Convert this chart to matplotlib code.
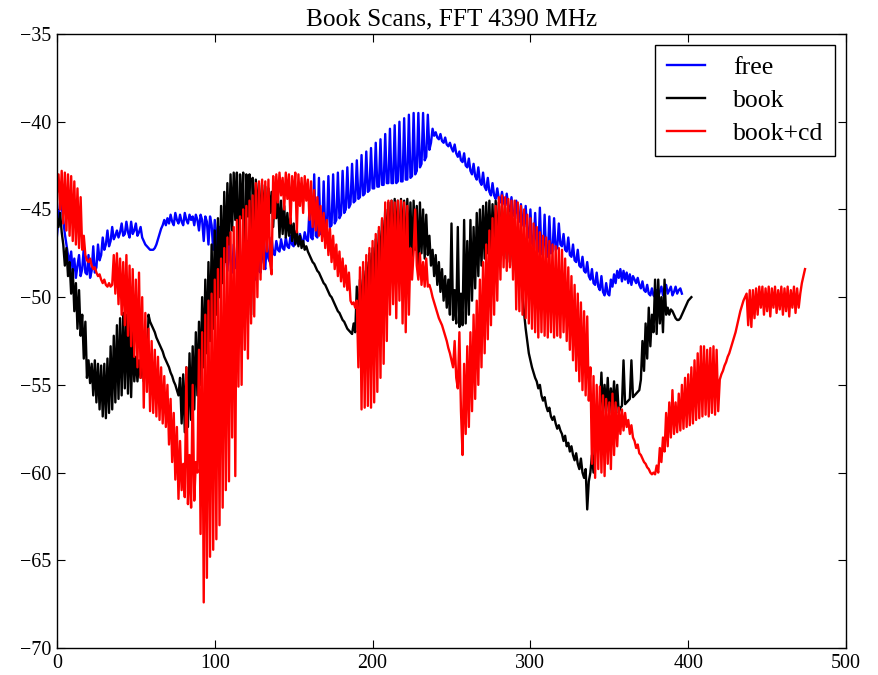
import numpy as np
import matplotlib
matplotlib.use("Agg")
import matplotlib.pyplot as plt

# One reading per scan position, starting at position 0
free_db = [
    -46.5, -45.5, -44.6, -44.8, -45.6, -46.4, -47.0, -47.6, -48.0, -47.4,
    -48.6, -47.8, -48.9, -48.2, -47.6, -48.8, -48.4, -47.2, -48.6, -48.7,
    -47.6, -48.9, -48.5, -47.1, -48.6, -48.3, -47.0, -47.9, -47.6, -46.6,
    -47.3, -47.0, -46.2, -47.1, -46.8, -46.0, -46.7, -46.5, -46.2, -46.6,
    -46.3, -45.8, -46.5, -46.4, -45.7, -46.3, -46.6, -45.7, -46.4, -46.2,
    -45.8, -46.5, -46.3, -46.0, -46.6, -46.8, -47.0, -47.1, -47.2, -47.3,
    -47.3, -47.3, -47.2, -47.0, -46.7, -46.4, -46.1, -45.9, -45.6, -45.9,
    -45.5, -45.8, -45.3, -45.7, -45.9, -45.2, -45.6, -45.8, -45.3, -45.7,
    -45.9, -45.2, -45.6, -45.8, -45.3, -45.6, -45.4, -45.9, -45.3, -45.6,
    -46.2, -45.3, -45.6, -46.8, -45.4, -45.7, -47.0, -45.4, -45.9, -47.3,
    -45.6, -46.5, -47.6, -46.0, -47.0, -48.0, -46.5, -47.5, -48.5, -47.0,
    -48.0, -48.6, -47.0, -48.2, -48.4, -46.8, -48.0, -48.6, -47.2, -48.5,
    -48.8, -46.8, -48.2, -49.2, -46.5, -48.0, -49.0, -46.4, -48.5, -48.6,
    -46.6, -48.0, -48.4, -46.8, -47.8, -48.0, -46.6, -47.5, -47.6, -46.8,
    -47.3, -47.4, -46.7, -47.2, -47.3, -46.6, -47.1, -47.2, -46.5, -47.0,
    -47.1, -46.4, -46.9, -47.0, -46.4, -46.8, -46.9, -46.3, -46.7, -46.8,
    -45.0, -46.6, -46.7, -43.0, -46.5, -46.6, -43.2, -46.4, -46.4, -43.4,
    -46.2, -46.2, -43.1, -46.0, -45.9, -43.0, -45.8, -45.6, -42.9, -45.5,
    -45.3, -42.8, -45.2, -45.0, -42.6, -44.9, -44.7, -42.4, -44.6, -44.5,
    -42.2, -44.4, -44.3, -41.9, -44.2, -44.1, -41.7, -44.0, -43.9, -41.5,
    -43.8, -43.8, -41.2, -43.7, -43.7, -41.0, -43.6, -43.6, -40.7, -43.5,
    -43.5, -40.4, -43.5, -43.5, -40.2, -43.5, -43.4, -40.0, -43.4, -43.4,
    -39.8, -43.3, -43.3, -39.6, -43.2, -43.1, -39.5, -43.0, -42.8, -39.5,
    -42.6, -42.4, -39.5, -42.2, -42.0, -39.6, -41.6, -41.2, -40.4, -40.8,
    -40.6, -40.9, -41.0, -40.7, -41.1, -41.2, -40.9, -41.3, -41.4, -41.2,
    -41.5, -41.7, -41.3, -41.8, -42.0, -41.7, -42.2, -42.3, -41.8, -42.5,
    -42.6, -42.1, -42.8, -43.0, -42.4, -43.1, -43.3, -42.6, -43.4, -43.6,
    -42.9, -43.7, -43.9, -43.2, -44.0, -44.2, -43.5, -44.2, -44.4, -43.8,
    -44.4, -44.6, -44.0, -44.6, -44.8, -44.1, -44.9, -45.1, -44.3, -45.2,
    -45.4, -44.5, -45.5, -45.7, -44.7, -45.8, -46.0, -44.8, -46.3, -46.6,
    -45.0, -46.9, -47.1, -45.2, -47.2, -47.4, -44.9, -47.5, -47.6, -45.3,
    -47.6, -47.7, -45.4, -47.5, -47.4, -45.5, -47.3, -47.2, -45.8, -47.0,
    -47.1, -46.4, -47.3, -47.4, -46.6, -47.6, -47.7, -47.0, -47.9, -48.0,
    -47.3, -48.2, -48.3, -47.7, -48.5, -48.6, -48.0, -48.8, -49.0, -48.4,
    -49.2, -49.3, -48.6, -49.4, -49.6, -48.8, -49.7, -49.9, -49.2, -49.8,
    -49.9, -49.0, -49.4, -48.7, -49.2, -48.5, -48.9, -48.4, -49.1, -48.5,
    -49.0, -48.6, -49.2, -48.7, -49.3, -48.8, -49.0, -49.2, -48.9, -49.3,
    -49.5, -49.1, -49.6, -49.7, -49.3, -49.8, -49.9, -49.5, -49.9, -50.0,
    -49.6, -50.0, -49.7, -49.4, -49.9, -49.5, -49.3, -49.8, -49.6, -49.4,
    -49.9, -49.7, -49.4, -49.8, -49.6, -49.5, -49.8,
]

book_db = [
    -45.5, -46.0, -45.2, -46.3, -47.0, -48.2, -47.2, -48.8, -48.0, -49.8,
    -48.4, -50.8, -49.2, -51.8, -49.6, -52.2, -51.0, -53.5, -51.4, -54.6,
    -53.6, -54.9, -53.8, -55.6, -53.6, -56.0, -53.8, -56.4, -53.9, -56.8,
    -53.8, -56.9, -53.5, -56.6, -52.8, -56.4, -52.2, -56.0, -51.6, -55.8,
    -51.2, -55.6, -50.9, -55.2, -51.0, -55.5, -51.2, -55.7, -52.0, -54.8,
    -53.4, -54.8, -53.6, -54.6, -53.4, -54.8, -53.5, -54.6, -51.0, -51.4,
    -51.6, -51.8, -52.0, -52.3, -52.5, -52.7, -52.9, -53.1, -53.4, -53.6,
    -53.8, -54.0, -54.3, -54.5, -54.8, -55.0, -55.3, -55.6, -54.6, -57.2,
    -54.4, -57.7, -54.0, -57.4, -53.2, -57.0, -52.8, -56.4, -52.0, -55.6,
    -51.4, -55.0, -50.0, -54.0, -49.0, -53.2, -48.0, -52.5, -47.0, -51.8,
    -46.2, -51.0, -45.5, -50.0, -44.8, -49.2, -44.0, -48.0, -43.5, -47.0,
    -43.0, -46.2, -42.9, -45.6, -42.9, -49.0, -43.0, -45.5, -42.9, -50.8,
    -43.0, -45.4, -43.0, -51.0, -43.2, -46.0, -43.3, -45.5, -43.5, -46.2,
    -43.6, -45.4, -43.7, -46.6, -43.8, -45.2, -44.0, -46.0, -44.1, -45.5,
    -44.2, -46.6, -44.5, -46.4, -44.8, -46.6, -45.2, -46.5, -45.5, -46.8,
    -45.8, -47.0, -46.2, -47.1, -46.5, -47.2, -46.8, -47.3, -47.1, -47.4,
    -47.6, -47.8, -48.0, -48.1, -48.3, -48.5, -48.6, -48.8, -49.0, -49.2,
    -49.3, -49.5, -49.7, -49.9, -50.0, -50.2, -50.4, -50.6, -50.8, -50.9,
    -51.1, -51.3, -51.4, -51.6, -51.8, -51.9, -52.0, -52.1, -51.5, -52.0,
    -49.4, -51.8, -49.0, -51.2, -48.5, -50.6, -48.0, -50.0, -47.5, -49.6,
    -47.2, -49.2, -46.7, -48.8, -46.2, -48.4, -45.6, -48.0, -45.0, -47.6,
    -44.6, -47.4, -44.5, -48.0, -44.4, -47.2, -44.5, -48.5, -44.4, -47.0,
    -44.5, -48.8, -44.4, -47.5, -44.6, -48.2, -44.5, -47.3, -44.8, -48.6,
    -44.6, -47.5, -45.0, -47.8, -45.3, -47.6, -46.5, -48.2, -47.3, -48.8,
    -47.6, -49.3, -48.0, -49.7, -48.4, -50.2, -48.8, -50.6, -49.0, -51.0,
    -45.8, -51.3, -49.6, -51.5, -46.0, -51.7, -49.8, -51.6, -45.6, -51.5,
    -46.8, -51.0, -45.6, -50.2, -46.0, -49.5, -45.2, -48.8, -45.0, -48.2,
    -44.8, -47.8, -44.6, -47.5, -44.5, -47.6, -44.7, -47.4, -44.5, -47.8,
    -44.6, -47.5, -44.8, -47.6, -44.9, -47.8, -45.0, -48.0, -45.2, -48.2,
    -45.5, -48.5, -46.0, -49.0, -47.0, -50.0, -50.9, -51.8, -52.5, -53.2,
    -53.6, -54.0, -54.3, -54.6, -54.8, -55.2, -55.0, -55.6, -55.9, -55.7,
    -56.2, -56.5, -56.3, -56.8, -57.0, -56.8, -57.2, -57.5, -57.3, -57.6,
    -57.8, -58.2, -57.9, -58.5, -58.3, -58.8, -58.5, -59.0, -59.3, -58.9,
    -59.5, -59.8, -59.2, -60.0, -60.3, -59.8, -62.1, -60.5, -60.0, -59.0,
    -60.0, -58.2, -57.5, -57.0, -56.4, -54.3, -56.6, -55.0, -56.5, -54.6,
    -56.6, -55.2, -56.4, -54.8, -56.5, -55.0, -56.6, -56.3, -56.2, -53.6,
    -56.1, -56.0, -55.9, -55.8, -53.6, -55.7, -55.6, -55.5, -55.4, -55.3,
    -54.7, -52.5, -54.2, -51.5, -53.5, -50.6, -52.8, -51.0, -52.0, -49.0,
    -52.1, -49.0, -51.5, -50.0, -52.0, -49.0, -51.0, -50.6, -51.0, -50.7,
    -50.8, -51.0, -51.2, -51.3, -51.3, -51.2, -51.0, -50.8, -50.6, -50.4,
    -50.2, -50.1, -50.0,
]

book_cd_db = [
    -44.0, -43.0, -45.0, -42.8, -45.8, -42.9, -46.2, -43.0, -46.5, -43.1,
    -46.8, -43.4, -47.0, -43.8, -47.2, -44.3, -47.3, -46.5, -47.6, -47.9,
    -48.0, -47.8, -48.2, -48.4, -48.3, -48.6, -48.8, -48.7, -49.0, -49.2,
    -49.0, -49.3, -49.4, -49.2, -49.4, -49.3, -47.6, -49.8, -47.5, -50.4,
    -47.8, -51.0, -48.0, -51.6, -47.6, -52.2, -48.2, -52.8, -48.4, -53.4,
    -49.0, -54.0, -48.6, -54.6, -50.0, -56.3, -50.9, -55.4, -51.8, -56.5,
    -52.5, -56.6, -53.0, -56.8, -53.4, -57.0, -54.0, -57.2, -54.5, -57.4,
    -55.0, -58.4, -55.8, -59.4, -56.6, -60.4, -57.4, -61.5, -58.2, -61.0,
    -59.5, -61.4, -54.0, -61.8, -59.0, -62.0, -55.0, -61.6, -59.4, -60.0,
    -53.0, -63.5, -52.0, -67.4, -51.0, -66.0, -50.2, -64.8, -49.8, -64.4,
    -49.0, -63.8, -48.4, -63.0, -47.8, -62.0, -47.2, -61.0, -46.6, -60.5,
    -46.3, -58.0, -46.0, -60.2, -45.6, -55.1, -45.4, -55.0, -45.0, -53.0,
    -44.8, -53.5, -44.5, -51.5, -44.2, -51.1, -43.5, -50.0, -43.4, -49.0,
    -43.3, -48.4, -43.4, -47.4, -43.3, -48.0, -48.7, -43.1, -45.5, -43.0,
    -44.6, -42.9, -44.2, -43.2, -45.0, -42.9, -44.4, -43.0, -45.8, -43.1,
    -44.5, -42.9, -46.3, -43.0, -44.8, -43.2, -45.2, -43.1, -44.5, -43.3,
    -45.6, -43.4, -46.0, -43.9, -46.2, -44.3, -46.5, -44.8, -46.8, -45.2,
    -47.2, -45.6, -47.6, -46.1, -48.0, -46.5, -48.4, -47.0, -48.8, -47.4,
    -49.1, -47.8, -49.4, -48.2, -49.6, -48.6, -50.2, -50.4, -50.3, -50.6,
    -50.2, -54.0, -48.3, -56.4, -48.0, -56.3, -47.6, -56.2, -47.2, -56.3,
    -46.8, -56.0, -46.4, -55.4, -46.0, -54.6, -45.5, -53.8, -44.6, -52.5,
    -44.5, -51.0, -44.5, -50.4, -44.6, -51.2, -44.5, -50.2, -44.5, -51.5,
    -44.6, -52.0, -44.8, -51.0, -47.2, -49.0, -47.4, -45.0, -48.2, -49.0,
    -47.5, -49.3, -48.0, -49.4, -47.8, -49.4, -49.3, -49.6, -50.0, -50.3,
    -50.6, -50.9, -51.2, -51.4, -51.6, -51.9, -52.2, -52.5, -52.9, -53.2,
    -53.6, -54.0, -52.5, -54.6, -55.2, -52.0, -56.5, -59.0, -53.8, -57.8,
    -52.8, -57.4, -52.0, -56.5, -51.0, -55.8, -50.2, -55.0, -49.0, -54.0,
    -48.0, -53.2, -47.0, -52.4, -46.2, -51.6, -45.5, -51.0, -44.8, -50.2,
    -44.3, -49.0, -44.2, -48.3, -44.3, -48.5, -44.4, -48.3, -44.5, -49.0,
    -44.5, -50.7, -44.6, -50.8, -44.8, -51.0, -45.0, -51.2, -45.3, -51.5,
    -45.5, -51.8, -45.8, -52.0, -46.0, -52.3, -46.3, -52.0, -46.5, -52.2,
    -46.6, -52.3, -46.8, -52.0, -47.0, -52.3, -47.1, -52.2, -47.2, -52.3,
    -47.3, -52.0, -47.8, -52.5, -48.3, -53.0, -48.8, -53.6, -49.3, -54.2,
    -49.8, -54.8, -50.3, -55.3, -50.8, -55.6, -51.1, -55.9, -54.0, -59.5,
    -54.5, -60.3, -55.0, -59.8, -55.1, -60.0, -55.6, -60.2, -55.8, -59.5,
    -56.0, -59.8, -55.5, -59.0, -56.0, -58.5, -56.3, -57.8, -56.4, -57.6,
    -56.6, -57.4, -57.0, -57.8, -57.3, -58.0, -58.2, -58.6, -58.4, -58.9,
    -59.0, -59.2, -59.4, -59.5, -59.7, -59.8, -60.0, -60.1, -60.0, -60.1,
    -59.6, -60.0, -58.6, -59.4, -58.0, -58.8, -56.6, -58.5, -56.0, -58.0,
    -55.3, -57.8, -56.0, -57.7, -55.5, -57.6, -55.0, -57.5, -54.6, -57.4,
    -54.4, -57.3, -54.0, -57.2, -53.6, -57.0, -53.2, -56.9, -52.8, -56.8,
    -52.8, -56.7, -53.0, -56.8, -52.9, -56.6, -52.8, -56.7, -53.0, -56.5,
    -54.7, -54.4, -54.2, -53.9, -53.7, -53.4, -53.2, -52.9, -52.6, -52.3,
    -52.0, -51.6, -51.2, -50.8, -50.5, -50.2, -50.0, -49.8, -51.6, -49.6,
    -51.7, -49.6, -51.2, -49.5, -51.0, -49.4, -50.6, -49.4, -51.0, -49.5,
    -50.8, -49.4, -51.1, -49.5, -50.6, -49.4, -50.9, -49.6, -50.7, -49.4,
    -51.0, -49.5, -50.8, -49.4, -51.1, -49.6, -50.6, -49.4, -50.9, -49.5,
    -50.6, -49.8, -49.2, -48.8, -48.4,
]

series = [
    ("free", free_db, "#0000ff"),
    ("book", book_db, "#000000"),
    ("book+cd", book_cd_db, "#ff0000"),
]

x_ticks = [0, 100, 200, 300, 400, 500]
y_ticks = [-70, -65, -60, -55, -50, -45, -40, -35]

plt.rcParams["font.family"] = ["Liberation Serif", "DejaVu Serif"]

fig = plt.figure(figsize=(8.79, 6.75), dpi=100)
ax = fig.add_axes([0.0648, 0.040, 0.8977, 0.9096])

for name, vals, color in series:
    xs = np.arange(len(vals))
    ax.plot(xs, vals, color=color, lw=1.7, label=name)

ax.set_xlim(0, 500)
ax.set_ylim(-70, -35)
ax.set_xticks(x_ticks)
ax.set_yticks(y_ticks)
ax.tick_params(direction="in", length=6, width=0.8, top=True, right=True,
               labelsize=14.4, pad=4)
for sp in ax.spines.values():
    sp.set_linewidth(1.0)

ax.set_title("Book Scans, FFT 4390 MHz", fontsize=18.2, pad=6)

leg = ax.legend(loc="upper right", fontsize=18.5, fancybox=False,
                framealpha=1, edgecolor="black", handlelength=1.5,
                borderaxespad=0.42, labelspacing=0.38, handletextpad=1.1,
                borderpad=0.45)
leg.get_frame().set_linewidth(1.0)

fig.savefig("out.png", dpi=100)
